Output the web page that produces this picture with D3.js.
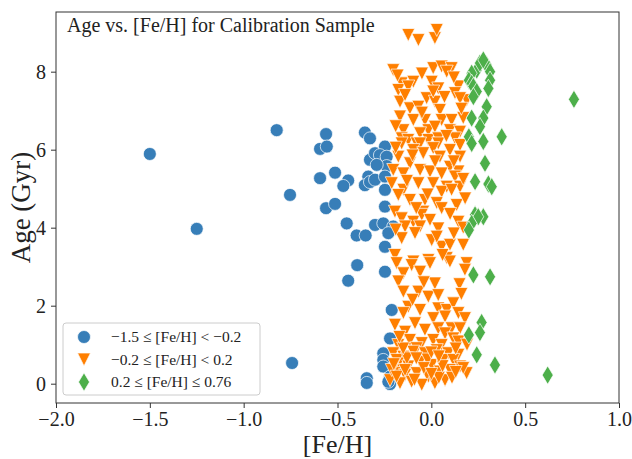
<!DOCTYPE html>
<html>
<head>
<meta charset="utf-8">
<script src="https://d3js.org/d3.v7.min.js"></script>
<style>
  body { margin: 0; background: #fff; }
  svg text { font-family: "Liberation Serif", "DejaVu Serif", serif; fill: #222; }
</style>
</head>
<body>
<svg id="chart"></svg>
<script>
var width = 632;
var height = 459;

// [Fe/H], Age (Gyr) for each metallicity bin
var lowFe = [
  [-1.50,5.89],[-1.25,3.97],[-0.824,6.50],[-0.742,0.53],[-0.561,6.40],[-0.593,6.02],[-0.557,6.08],
  [-0.354,6.44],[-0.327,6.29],[-0.327,5.74],[-0.300,5.91],[-0.593,5.27],[-0.513,5.41],[-0.753,4.84],
  [-0.443,5.21],[-0.469,5.07],[-0.336,5.31],[-0.354,5.09],[-0.327,5.17],[-0.561,4.50],[-0.513,4.61],
  [-0.451,4.11],[-0.398,3.80],[-0.350,3.80],[-0.300,4.07],[-0.395,3.04],[-0.443,2.64],[-0.344,0.14],
  [-0.344,0.02],[-0.247,6.08],[-0.274,5.86],[-0.238,5.82],[-0.238,5.58],[-0.291,5.61],[-0.300,5.23],
  [-0.247,5.31],[-0.247,4.97],[-0.247,4.54],[-0.256,4.11],[-0.203,4.03],[-0.229,3.86],[-0.247,3.51],
  [-0.247,2.87],[-0.211,1.89],[-0.220,1.16],[-0.256,0.78],[-0.256,0.61],[-0.256,0.44],[-0.220,0.18],
  [-0.220,-0.01],[-0.229,0.05]
];

var midFe = [
  [-0.123,8.94],[-0.069,8.81],[0.019,8.86],[0.029,9.07],
  [-0.203,8.04],[0.010,8.09],[0.055,8.13],[0.108,8.09],[0.082,8.00],
  [-0.158,7.70],[-0.096,7.74],[0.002,7.74],[-0.176,7.53],[-0.123,7.62],[0.037,7.57],[0.144,7.62],
  [0.126,7.45],[0.188,7.27],[0.153,7.32],
  [-0.167,7.23],[-0.114,7.06],[-0.069,7.10],[-0.025,7.32],[0.019,7.23],[0.046,7.02],[0.010,7.49],
  [-0.167,6.85],[-0.096,6.76],[-0.149,6.50],[-0.034,6.76],[-0.016,6.50],[0.055,6.76],[0.108,6.76],
  [0.170,6.81],[0.019,6.59],[0.099,6.50],[-0.060,6.42],[0.153,6.46],
  [-0.158,6.29],[-0.123,6.25],[-0.016,6.25],[0.037,6.29],[0.126,6.29],[-0.078,6.16],
  [-0.158,6.16],[-0.060,6.16],[0.037,6.16],[0.153,6.12],[-0.096,5.99],[0.010,6.04],[0.099,5.99],
  [-0.176,5.82],[-0.114,5.65],[-0.043,5.91],[0.046,5.82],[0.153,5.82],[0.099,5.56],
  [-0.203,5.48],[-0.149,5.39],[-0.060,5.48],[-0.007,5.44],[0.055,5.39],[0.144,5.44],[0.126,5.31],
  [-0.211,5.14],[-0.149,4.97],[-0.069,5.14],[0.010,5.14],[0.082,5.05],[0.153,5.05],[0.055,4.92],[0.108,4.97],
  [-0.176,4.84],[-0.034,4.71],[0.029,4.63],[0.135,4.58],[-0.114,4.71],[0.055,4.50],[-0.194,4.41],[-0.043,4.41],
  [-0.158,4.24],[-0.096,4.15],[-0.051,4.33],[-0.007,4.20],[0.037,3.98],[0.144,4.15],[-0.140,4.03],[-0.060,4.03],
  [-0.158,3.73],[0.002,3.68],[0.055,3.51],[0.099,3.56],[0.170,3.56],[-0.087,3.86],[0.029,3.77],
  [-0.194,3.30],[-0.096,3.13],[-0.016,3.17],[0.082,3.22],[0.188,3.09],
  [-0.185,3.09],[-0.105,3.04],[-0.007,3.09],[0.099,3.13],[0.179,2.92],[-0.149,2.83],[-0.060,2.87],
  [-0.176,2.62],[-0.149,2.36],[-0.069,2.36],[-0.016,2.23],[0.019,2.57],[0.037,2.27],
  [-0.123,1.97],[-0.149,1.81],[-0.060,1.89],[0.037,1.93],[0.082,1.89],[0.117,2.06],[0.144,1.81],
  [0.179,1.68],[0.073,1.72],[0.010,1.68],
  [-0.194,1.51],[-0.140,1.33],[-0.087,1.55],[-0.034,1.38],[0.037,1.42],[0.108,1.42],[0.153,1.42],[0.073,1.29],
  [-0.176,0.99],[-0.114,1.12],[-0.051,1.04],[0.010,1.12],[0.055,0.99],[0.117,1.16],[0.144,1.08],[-0.078,0.91],
  [-0.203,0.78],[-0.149,0.69],[-0.096,0.82],[-0.034,0.78],[0.029,0.86],[0.090,0.78],[0.144,0.74],
  [-0.176,0.52],[-0.123,0.44],[-0.060,0.56],[0.002,0.48],[0.064,0.61],[0.117,0.61],[0.153,0.44],[0.188,0.27],
  [-0.194,0.27],[-0.140,0.22],[-0.078,0.27],[-0.016,0.18],[0.046,0.31],[0.099,0.35],
  [-0.167,0.01],[-0.105,0.05],[-0.051,-0.03],[0.019,0.01],[0.073,0.09],[-0.220,0.09],[-0.185,0.61],
  [0.170,0.40],[-0.211,0.35],[-0.185,0.18],[-0.130,0.65],[-0.020,0.62],[0.040,0.15],[0.110,0.15],
  [-0.090,0.10],[0.000,0.80],[0.060,0.45],[-0.150,0.90],[-0.040,0.40],[0.130,0.90],
  [-0.180,7.90],[-0.050,7.95],[0.120,7.85],[-0.140,7.40],[0.070,7.35],[-0.050,6.95],[0.160,7.05],
  [-0.190,6.60],[0.080,6.35],[-0.100,5.85],[0.020,5.70],[-0.190,6.05],[0.120,5.70],[0.170,5.25],
  [-0.130,5.20],[-0.020,4.85],[0.180,4.75],[-0.080,4.50],[0.100,4.35],[0.170,4.00],[-0.190,3.95],
  [0.120,3.85],[0.060,3.30],[-0.040,2.60],[0.150,2.55],[-0.100,2.15],[0.160,2.30],[-0.170,1.20],
  [0.190,1.00],[-0.080,0.65],[0.040,0.70],[-0.140,0.35],[0.130,0.30],[0.000,0.25],[-0.200,0.50]
];

var highFe = [
  [0.242,8.04],[0.295,8.17],[0.259,8.22],[0.277,8.30],[0.313,8.00],[0.215,7.96],[0.200,7.78],[0.313,7.78],
  [0.215,7.70],[0.224,7.62],[0.304,7.57],[0.242,7.49],[0.224,7.36],[0.295,7.10],[0.215,6.81],[0.277,6.81],
  [0.259,6.59],[0.200,6.33],[0.277,6.21],[0.375,6.33],[0.760,7.29],[0.215,6.16],[0.286,5.65],[0.233,5.18],
  [0.304,5.12],[0.322,5.05],[0.233,4.33],[0.277,4.28],[0.250,4.28],[0.215,4.11],[0.200,3.94],[0.224,2.79],
  [0.313,2.74],[0.268,1.57],[0.200,1.25],[0.259,1.31],[0.242,0.74],[0.339,0.48],[0.620,0.22]
];

var xTicks = [-2.0, -1.5, -1.0, -0.5, 0.0, 0.5, 1.0];
var yTicks = [0, 2, 4, 6, 8];
var legendLabels = [
  "\u22121.5 \u2264 [Fe/H] < \u22120.2",
  "\u22120.2 \u2264 [Fe/H] < 0.2",
  "0.2 \u2264 [Fe/H] \u2264 0.76"
];

var colors = ["#377eb8", "#ff7f00", "#4daf4a"];
var ms = 13; // marker size in px

// marker shapes like matplotlib 'o', 'v', 'd'
function circlePath(s) {
  var r = s / 2;
  return "M" + r + ",0A" + r + "," + r + " 0 1,1 " + (-r) + ",0A" + r + "," + r + " 0 1,1 " + r + ",0Z";
}
function trianglePath(s) {
  var h = s / 2;
  return "M0," + h + "L" + (-h) + "," + (-h) + "L" + h + "," + (-h) + "Z";
}
function diamondPath(s) {
  var hy = s * Math.SQRT2 / 2, hx = hy * 0.6;
  return "M0," + (-hy) + "L" + hx + ",0L0," + hy + "L" + (-hx) + ",0Z";
}
var shapes = [circlePath, trianglePath, diamondPath];

var svg = d3.select("#chart").attr("width", width).attr("height", height);

var x = d3.scaleLinear().domain([-2, 1]).range([56, 619]);
var y = d3.scaleLinear().domain([-0.495, 9.53]).range([403, 12]);

// axes
var xAxis = svg.append("g")
  .attr("transform", "translate(0," + y.range()[0] + ")")
  .call(d3.axisBottom(x).tickValues(xTicks).tickSize(5).tickPadding(4)
    .tickFormat(function(d) { return d3.format(".1f")(d).replace("-", "\u2212"); }));
var yAxis = svg.append("g")
  .attr("transform", "translate(" + x.range()[0] + ",0)")
  .call(d3.axisLeft(y).tickValues(yTicks).tickSize(5).tickPadding(5));

[xAxis, yAxis].forEach(function(a) {
  a.select(".domain").remove();
  a.selectAll("line").attr("stroke", "#333").attr("stroke-width", 1);
  a.selectAll("text").style("font-size", "20px").attr("fill", "#222");
});

// points
var series = [lowFe, midFe, highFe];
series.forEach(function(data, i) {
  svg.append("g")
    .selectAll("path")
    .data(data)
    .enter()
    .append("path")
    .attr("d", shapes[i](ms))
    .attr("transform", function(d) { return "translate(" + x(d[0]) + "," + y(d[1]) + ")"; })
    .attr("fill", colors[i])
    .attr("stroke", "#fff")
    .attr("stroke-width", 0.7);
});

// frame
svg.append("rect")
  .attr("x", x.range()[0]).attr("y", y.range()[1])
  .attr("width", x.range()[1] - x.range()[0])
  .attr("height", y.range()[0] - y.range()[1])
  .attr("fill", "none").attr("stroke", "#333").attr("stroke-width", 1);

// title inside plot
svg.append("text")
  .attr("x", 67).attr("y", 32)
  .style("font-size", "20px")
  .text("Age vs. [Fe/H] for Calibration Sample");

// axis labels
svg.append("text")
  .attr("x", (x.range()[0] + x.range()[1]) / 2).attr("y", 453)
  .attr("text-anchor", "middle")
  .style("font-size", "26px")
  .text("[Fe/H]");
svg.append("text")
  .attr("transform", "translate(30," + ((y.range()[0] + y.range()[1]) / 2) + ") rotate(-90)")
  .attr("text-anchor", "middle")
  .style("font-size", "27px")
  .text("Age (Gyr)");

// legend
var legend = svg.append("g").attr("transform", "translate(63,323)");
legend.append("rect")
  .attr("width", 197).attr("height", 72).attr("rx", 3)
  .attr("fill", "#fff").attr("fill-opacity", 0.8)
  .attr("stroke", "#ccc").attr("stroke-width", 1);
legendLabels.forEach(function(lab, i) {
  var row = legend.append("g").attr("transform", "translate(0," + (14 + i * 22.5) + ")");
  row.append("path")
    .attr("d", shapes[i](ms))
    .attr("transform", "translate(21,0)")
    .attr("fill", colors[i]).attr("stroke", "#fff").attr("stroke-width", 0.7);
  row.append("text")
    .attr("x", 48).attr("y", 5)
    .style("font-size", "15.5px")
    .text(lab);
});
</script>
</body>
</html>
